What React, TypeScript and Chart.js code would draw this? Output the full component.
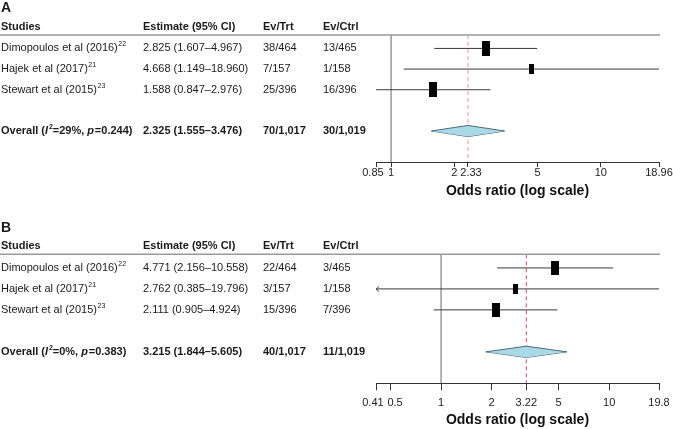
import React, { useEffect, useRef } from "react";
import { Chart, registerables } from "chart.js";
Chart.register(...registerables);

const FONT = '"Liberation Sans", Arial, Helvetica, sans-serif';

// ---------- shared data ----------
const studies = ["Dimopoulos et al (2016)", "Hajek et al (2017)", "Stewart et al (2015)"];
const refs = ["22", "21", "23"];
const headers = ["Studies", "Estimate (95% CI)", "Ev/Trt", "Ev/Ctrl"];
const axisTitle = "Odds ratio (log scale)";

// ---------- panel A ----------
const estA = [2.825, 4.668, 1.588];
const lowA = [1.607, 1.149, 0.847];
const highA = [4.967, 18.96, 2.976];
const evTrtA = ["38/464", "7/157", "25/396"];
const evCtrlA = ["13/465", "1/158", "16/396"];
const pooledA = [2.325, 1.555, 3.476];
const totalsA = ["70/1,017", "30/1,019"];
const hetA = ["29%", "0.244"];
const ticksA = [0.847, 1, 2, 2.325, 5, 10, 18.96];
const tickLabelsA = ["0.85  ", "1", "2", "  2.33", "5", "10", "18.96"];

// ---------- panel B ----------
const estB = [4.771, 2.762, 2.111];
const lowB = [2.156, 0.385, 0.905];
const highB = [10.558, 19.796, 4.924];
const evTrtB = ["22/464", "3/157", "15/396"];
const evCtrlB = ["3/465", "1/158", "7/396"];
const pooledB = [3.215, 1.844, 5.605];
const totalsB = ["40/1,017", "11/1,019"];
const hetB = ["0%", "0.383"];
const ticksB = [0.41, 0.5, 1, 2, 3.215, 5, 10, 19.796];
const tickLabelsB = ["0.41  ", "   0.5", "1", "2", "3.22", "5", "10", "19.8"];

const panelA = { est: estA, low: lowA, high: highA, evTrt: evTrtA, evCtrl: evCtrlA, pooled: pooledA, totals: totalsA, het: hetA, ticks: ticksA, tickLabels: tickLabelsA };
const panelB = { est: estB, low: lowB, high: highB, evTrt: evTrtB, evCtrl: evCtrlB, pooled: pooledB, totals: totalsB, het: hetB, ticks: ticksB, tickLabels: tickLabelsB };

// ---------- styles ----------
const styleA = { letter: "A", height: 210, top: 35, axisY: 162, tickLen: 5, tickPad: 0, titlePadBottom: 10.6, boxes: [[8, 15], [5, 10], [8, 15]], refColor: "rgba(228,120,120,0.75)" };
const styleB = { letter: "B", height: 219, top: 44.3, axisY: 173.3, tickLen: 7, tickPad: 7, titlePadBottom: 0.6, boxes: [[8, 14], [5, 10], [8, 14]], refColor: "rgba(210,60,60,0.9)" };
const colX = [1, 143, 263, 323];

function boxCanvas(w: number, h: number) {
  const c = document.createElement("canvas");
  c.width = w;
  c.height = h;
  const g = c.getContext("2d")!;
  g.fillStyle = "#000";
  g.fillRect(0, 0, w, h);
  return c;
}

function arrowCanvas() {
  const c = document.createElement("canvas");
  c.width = 8;
  c.height = 8;
  const g = c.getContext("2d")!;
  g.strokeStyle = "#444";
  g.lineWidth = 1;
  g.beginPath();
  g.moveTo(7, 1.5);
  g.lineTo(4, 4);
  g.lineTo(7, 6.5);
  g.stroke();
  return c;
}

const fmt = (e: number, l: number, h: number) => `${e.toFixed(3)} (${l.toFixed(3)}–${h.toFixed(3)})`;

function makeTablePlugin(p: any, s: any) {
  return {
    id: "forestTable",
    afterDraw(chart: any) {
      const ctx = chart.ctx;
      const ys = chart.scales.y;
      const top = chart.chartArea.top;
      ctx.save();
      ctx.fillStyle = "#1a1a1a";
      ctx.textAlign = "left";
      ctx.textBaseline = "alphabetic";
      ctx.font = `bold 14px ${FONT}`;
      ctx.fillText(s.letter, 1, top - 22.8);
      ctx.font = `bold 11px ${FONT}`;
      headers.forEach((h, i) => ctx.fillText(h, colX[i], top - 5.5));
      // header rule
      ctx.strokeStyle = "#999";
      ctx.lineWidth = 1.5;
      ctx.beginPath();
      ctx.moveTo(0, top);
      ctx.lineTo(chart.chartArea.right + 1, top);
      ctx.stroke();
      // study rows
      ctx.textBaseline = "middle";
      p.est.forEach((e: number, i: number) => {
        const y = ys.getPixelForValue(i + 1);
        ctx.font = `11px ${FONT}`;
        ctx.fillText(studies[i], colX[0], y);
        const w = ctx.measureText(studies[i]).width;
        ctx.fillText(fmt(e, p.low[i], p.high[i]), colX[1], y);
        ctx.fillText(p.evTrt[i], colX[2], y);
        ctx.fillText(p.evCtrl[i], colX[3], y);
        ctx.font = `7px ${FONT}`;
        ctx.fillText(refs[i], colX[0] + w + 0.5, y - 4);
      });
      // overall row
      const yo = ys.getPixelForValue(p.est.length + 2);
      let x = colX[0];
      const segs: [string, string, number][] = [
        ["Overall (", "bold", 0],
        ["I", "italic bold", 0],
        ["2", "bold7", -4],
        ["=" + p.het[0] + ", ", "bold", 0],
        ["p", "italic bold", 0],
        ["=" + p.het[1] + ")", "bold", 0],
      ];
      segs.forEach(([t, f, dy]) => {
        ctx.font = f === "bold7" ? `bold 7px ${FONT}` : `${f} 11px ${FONT}`;
        ctx.fillText(t, x, yo + dy);
        x += ctx.measureText(t).width + (f === "italic bold" ? 0.8 : 0);
      });
      ctx.font = `bold 11px ${FONT}`;
      ctx.fillText(fmt(p.pooled[0], p.pooled[1], p.pooled[2]), colX[1], yo);
      ctx.fillText(p.totals[0], colX[2], yo);
      ctx.fillText(p.totals[1], colX[3], yo);
      ctx.restore();
    },
  };
}

function buildConfig(p: any, s: any) {
  const yMin = 0.35;
  const yMax = 6.5;
  const xMin = p.ticks[0];
  const xMax = p.ticks[p.ticks.length - 1];
  const overallRow = p.est.length + 2;
  const dh = 0.27;
  const datasets: any[] = [];

  // squares
  p.est.forEach((e: number, i: number) => {
    datasets.push({
      data: [{ x: e, y: i + 1 }],
      showLine: false,
      pointStyle: boxCanvas(s.boxes[i][0], s.boxes[i][1]),
      pointRadius: 5,
      clip: false,
    });
  });
  // arrows for truncated CIs
  p.low.forEach((l: number, i: number) => {
    if (l < xMin) {
      datasets.push({ data: [{ x: xMin, y: i + 1 }], showLine: false, pointStyle: arrowCanvas(), pointRadius: 4, clip: false });
    }
  });
  // diamond (upper + lower halves)
  datasets.push({
    data: [{ x: p.pooled[1], y: overallRow }, { x: p.pooled[0], y: overallRow - dh }, { x: p.pooled[2], y: overallRow }],
    borderColor: "#4e6a78",
    borderWidth: 1,
    backgroundColor: "#a9d8e6",
    fill: "+1",
    pointRadius: 0,
    tension: 0,
  });
  datasets.push({
    data: [{ x: p.pooled[1], y: overallRow }, { x: p.pooled[0], y: overallRow + dh }, { x: p.pooled[2], y: overallRow }],
    borderColor: "#4e6a78",
    borderWidth: 1,
    fill: false,
    pointRadius: 0,
    tension: 0,
  });
  // CI lines
  p.est.forEach((e: number, i: number) => {
    datasets.push({
      data: [{ x: p.low[i], y: i + 1 }, { x: p.high[i], y: i + 1 }],
      borderColor: "#3a3a3a",
      borderWidth: 1,
      pointRadius: 0,
      fill: false,
    });
  });
  // pooled estimate reference (dashed)
  datasets.push({
    data: [{ x: p.pooled[0], y: yMin }, { x: p.pooled[0], y: yMax }],
    borderColor: s.refColor,
    borderWidth: 1,
    borderDash: [4, 3],
    pointRadius: 0,
    fill: false,
  });
  // null line at OR = 1
  datasets.push({
    data: [{ x: 1, y: yMin }, { x: 1, y: yMax }],
    borderColor: "#9a9a9a",
    borderWidth: 1.5,
    pointRadius: 0,
    fill: false,
  });

  return {
    type: "line" as const,
    data: { datasets },
    options: {
      responsive: false,
      animation: false,
      devicePixelRatio: 1,
      layout: { padding: { left: 376, right: 14, top: s.top, bottom: 0 } },
      plugins: { legend: { display: false }, tooltip: { enabled: false } },
      scales: {
        x: {
          type: "logarithmic",
          min: xMin,
          max: xMax,
          bounds: "data",
          afterBuildTicks: (sc: any) => {
            sc.ticks = p.ticks.map((v: number) => ({ value: v }));
          },
          afterFit: (sc: any) => {
            sc.height = s.height - s.axisY;
            sc.paddingLeft = 0;
            sc.paddingRight = 0;
          },
          grid: { display: true, drawOnChartArea: false, drawTicks: true, tickLength: s.tickLen, color: "#333", lineWidth: 1 },
          border: { display: true, color: "#333", width: 1 },
          ticks: {
            autoSkip: false,
            maxRotation: 0,
            minRotation: 0,
            padding: s.tickPad,
            color: "#222",
            font: { family: FONT, size: 11, lineHeight: 1 },
            callback: (_v: any, i: number) => p.tickLabels[i],
          },
          title: {
            display: true,
            text: axisTitle,
            color: "#111",
            font: { family: FONT, size: 14, weight: "bold", lineHeight: 1.2 },
            padding: { top: 0, bottom: s.titlePadBottom },
          },
        },
        y: { type: "linear", display: false, reverse: true, min: yMin, max: yMax },
      },
    },
    plugins: [makeTablePlugin(p, s)],
  };
}

function ForestPanel({ p, s }: { p: any; s: any }) {
  const ref = useRef<HTMLCanvasElement | null>(null);
  useEffect(() => {
    const chart = new Chart(ref.current as HTMLCanvasElement, buildConfig(p, s) as any);
    return () => chart.destroy();
  }, []);
  return <canvas ref={ref} width={673} height={s.height} style={{ display: "block", width: 673, height: s.height }} />;
}

export default function App() {
  useEffect(() => {
    document.body.style.margin = "0";
  }, []);
  return (
    <div style={{ width: 673, height: 429, background: "#fff", fontFamily: FONT }}>
      <ForestPanel p={panelA} s={styleA} />
      <ForestPanel p={panelB} s={styleB} />
    </div>
  );
}
